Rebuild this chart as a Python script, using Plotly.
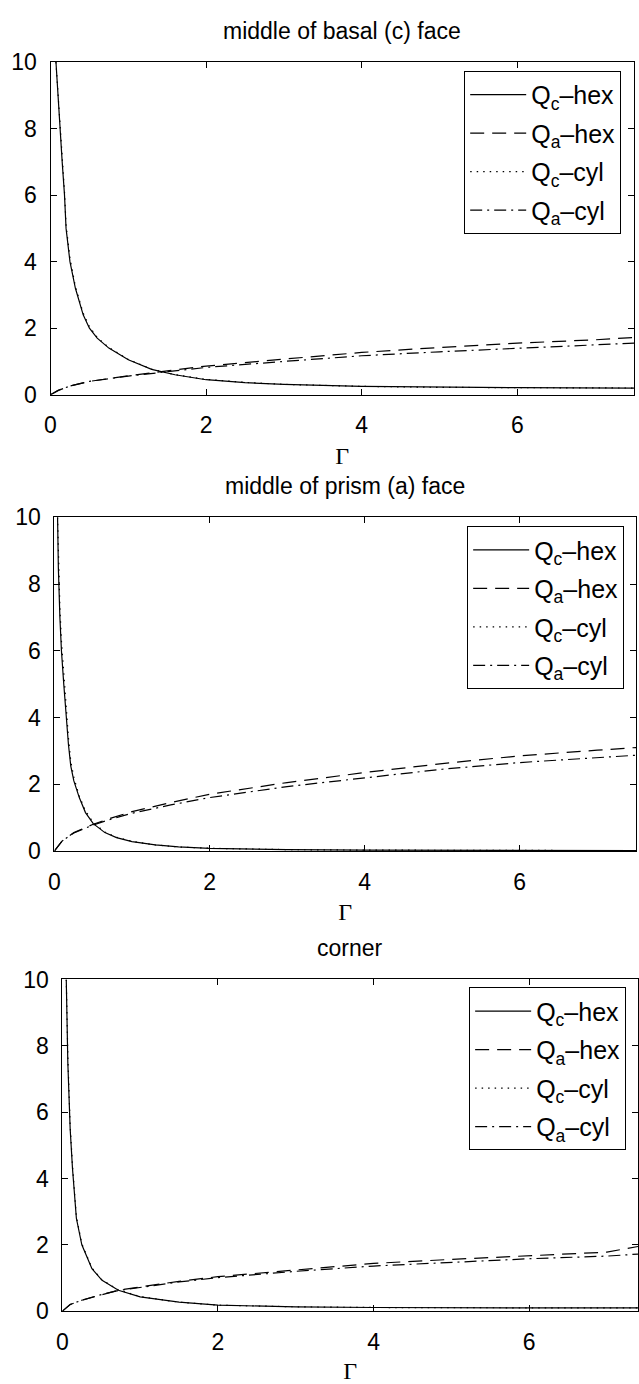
import plotly.graph_objects as go

W, H = 639, 1384

# ---- middle of basal (c) face ----
basal_gc = [0.07, 0.1, 0.12, 0.15, 0.18, 0.2, 0.25, 0.32, 0.42, 0.5, 0.6, 0.75,
            1.0, 1.3, 1.6, 2.0, 2.5, 3.0, 4.0, 5.0, 6.0, 7.5]
basal_qc_hex = [10.0, 8.8, 8.0, 7.0, 6.0, 5.0, 4.0, 3.2, 2.4, 2.0, 1.7, 1.4,
                1.05, 0.76, 0.6, 0.45, 0.36, 0.31, 0.25, 0.22, 0.21, 0.2]
basal_qc_cyl = [10.0, 9.0, 8.2, 7.1, 6.1, 5.1, 4.1, 3.25, 2.45, 2.05, 1.72, 1.42,
                1.06, 0.77, 0.6, 0.46, 0.37, 0.31, 0.25, 0.22, 0.21, 0.2]
basal_ga = [0, 0.1, 0.25, 0.5, 1.0, 1.36, 2.0, 3.0, 4.0, 5.0, 6.0, 7.0, 7.5]
basal_qa_hex = [0, 0.13, 0.26, 0.4, 0.57, 0.67, 0.86, 1.07, 1.27, 1.42, 1.55, 1.65, 1.72]
basal_qa_cyl = [0, 0.13, 0.26, 0.4, 0.56, 0.65, 0.82, 1.0, 1.17, 1.29, 1.4, 1.5, 1.55]

# ---- middle of prism (a) face ----
prism_gc = [0.04, 0.05, 0.07, 0.09, 0.12, 0.15, 0.18, 0.21, 0.25, 0.32, 0.4, 0.5,
            0.65, 0.8, 1.0, 1.3, 1.6, 2.0, 3.0, 4.0, 5.0, 7.5]
prism_qc_hex = [10.0, 8.5, 7.0, 6.0, 5.0, 4.0, 3.2, 2.55, 2.1, 1.6, 1.15, 0.82,
                0.55, 0.4, 0.28, 0.18, 0.12, 0.08, 0.04, 0.025, 0.02, 0.01]
prism_qc_cyl = [10.0, 8.8, 7.3, 6.3, 5.3, 4.25, 3.4, 2.7, 2.2, 1.65, 1.2, 0.85,
                0.57, 0.41, 0.29, 0.18, 0.12, 0.08, 0.04, 0.025, 0.02, 0.01]
prism_ga = [0, 0.1, 0.25, 0.5, 0.75, 1.0, 1.5, 2.0, 3.0, 4.0, 5.0, 6.0, 7.0, 7.5]
prism_qa_hex = [0, 0.3, 0.55, 0.8, 1.0, 1.18, 1.45, 1.7, 2.05, 2.35, 2.62, 2.85, 3.02, 3.1]
prism_qa_cyl = [0, 0.3, 0.54, 0.78, 0.97, 1.13, 1.38, 1.6, 1.93, 2.2, 2.45, 2.65, 2.8, 2.87]

# ---- corner ----
corner_gc = [0.05, 0.07, 0.1, 0.13, 0.18, 0.25, 0.38, 0.51, 0.72, 1.0, 1.5, 2.0,
             3.0, 4.0, 6.0, 7.4]
corner_qc_hex = [10.0, 7.5, 5.5, 4.3, 2.8, 2.0, 1.28, 0.93, 0.63, 0.43, 0.27, 0.18,
                 0.13, 0.11, 0.1, 0.1]
corner_qc_cyl = [10.0, 7.7, 5.6, 4.4, 2.85, 2.03, 1.3, 0.94, 0.64, 0.44, 0.27, 0.18,
                 0.13, 0.11, 0.1, 0.1]
corner_ga = [0, 0.1, 0.25, 0.5, 0.72, 1.0, 1.5, 2.0, 3.0, 4.0, 5.0, 6.0, 7.0, 7.4]
corner_qa_hex = [0, 0.2, 0.33, 0.5, 0.63, 0.73, 0.9, 1.04, 1.25, 1.44, 1.56, 1.66, 1.78, 1.95]
corner_qa_cyl = [0, 0.2, 0.33, 0.5, 0.62, 0.72, 0.88, 1.01, 1.2, 1.36, 1.48, 1.58, 1.66, 1.72]

titles = ["middle of basal (c) face", "middle of prism (a) face", "corner"]
series_names = ["Q<sub>c</sub>–hex", "Q<sub>a</sub>–hex", "Q<sub>c</sub>–cyl", "Q<sub>a</sub>–cyl"]
dashes = ["solid", "14px,8px", "1.5px,5px", "12px,5px,2px,5px"]
y_ticks = [0, 2, 4, 6, 8, 10]
x_ticks = [0, 2, 4, 6]

panels = [
    dict(gc=basal_gc, qc_hex=basal_qc_hex, qc_cyl=basal_qc_cyl,
         ga=basal_ga, qa_hex=basal_qa_hex, qa_cyl=basal_qa_cyl,
         top=50, bottom=389, left=45, right=635, xmax=7.5, leg_top=59, leg_right=622),
    dict(gc=prism_gc, qc_hex=prism_qc_hex, qc_cyl=prism_qc_cyl,
         ga=prism_ga, qa_hex=prism_qa_hex, qa_cyl=prism_qa_cyl,
         top=514, bottom=854, left=49, right=637, xmax=7.5, leg_top=523, leg_right=625),
    dict(gc=corner_gc, qc_hex=corner_qc_hex, qc_cyl=corner_qc_cyl,
         ga=corner_ga, qa_hex=corner_qa_hex, qa_cyl=corner_qa_cyl,
         top=985, bottom=1323, left=57, right=639, xmax=7.4, leg_top=993, leg_right=627),
]

SANS = "Liberation Sans, Arial, Helvetica, sans-serif"
SERIF = "Liberation Serif, Times New Roman, serif"
FS = 23
LEG_FS = 25

fig = go.Figure()
layout = dict(
    width=W, height=H,
    margin=dict(l=0, r=0, t=0, b=0),
    paper_bgcolor="white", plot_bgcolor="white",
    font=dict(family=SANS, size=FS, color="black"),
    annotations=[],
)

for i, p in enumerate(panels):
    n = "" if i == 0 else str(i + 1)
    xa, ya = "x" + n, "y" + n
    leg = "legend" + n
    curves = [
        (p["gc"], p["qc_hex"]),
        (p["ga"], p["qa_hex"]),
        (p["gc"], p["qc_cyl"]),
        (p["ga"], p["qa_cyl"]),
    ]
    for k, (gx, qy) in enumerate(curves):
        fig.add_trace(go.Scatter(
            x=gx, y=qy, mode="lines", name=series_names[k],
            line=dict(color="black", width=1.2, dash=dashes[k]),
            xaxis=xa, yaxis=ya, legend=leg, legendgroup=f"g{i}{k}",
        ))

    ydom = [1 - p["bottom"] / H, 1 - p["top"] / H]
    xdom = [p["left"] / W, p["right"] / W]
    axis_common = dict(
        showline=True, linecolor="black", linewidth=1, mirror="ticks",
        ticks="inside", ticklen=6, tickcolor="black", tickwidth=1,
        showgrid=False, zeroline=False,
        tickfont=dict(family=SANS, size=FS, color="black"),
    )
    layout["xaxis" + n] = dict(
        axis_common, domain=xdom, range=[0, p["xmax"]], tickvals=x_ticks,
        anchor=ya, ticklabelstandoff=10,
        title=dict(text="Γ", font=dict(family=SERIF, size=24, color="black"), standoff=9),
    )
    layout["yaxis" + n] = dict(
        axis_common, domain=ydom, range=[0, 10], tickvals=y_ticks,
        anchor=xa, ticklabelstandoff=8,
    )
    layout[leg] = dict(
        x=p["leg_right"] / W, xanchor="right",
        y=1 - p["leg_top"] / H, yanchor="top",
        bgcolor="white", bordercolor="black", borderwidth=1,
        font=dict(family=SANS, size=LEG_FS, color="black"),
        traceorder="grouped", tracegroupgap=3, itemwidth=56,
    )
    layout["annotations"].append(dict(
        text=titles[i], xref="paper", yref="paper",
        x=(xdom[0] + xdom[1]) / 2, y=ydom[1] + 32 / H,
        xanchor="center", yanchor="middle", showarrow=False,
        font=dict(family=SANS, size=FS, color="black"),
    ))

fig.update_layout(**layout)
fig.write_html("out.html")
